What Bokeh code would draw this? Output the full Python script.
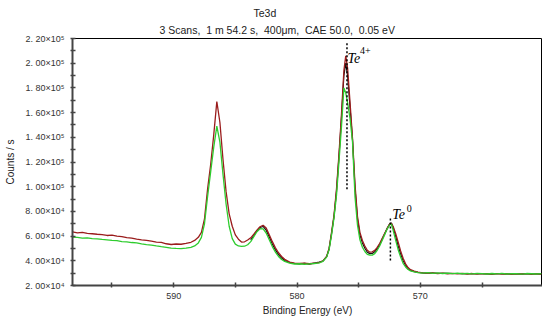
import numpy as np
from bokeh.plotting import figure
from bokeh.models import Range1d, FixedTicker, Title
from bokeh.core.properties import value
from bokeh.embed import file_html
from bokeh.resources import INLINE

# ---------------- data (binding energy in eV, counts in thousands) -------------
energy = [598.2, 597.8, 597.4, 597.0, 596.6, 596.2, 595.8, 595.4, 595.0, 594.6,
          594.2, 593.8, 593.4, 593.0, 592.6, 592.2, 591.8, 591.4, 591.0, 590.6,
          590.2, 589.8, 589.4, 589.0, 588.6,
          588.3, 588.0, 587.75, 587.5, 587.25, 587.0, 586.75, 586.5, 586.25, 586.0,
          585.75, 585.5, 585.25, 585.0, 584.75, 584.5, 584.25, 584.0,
          583.75, 583.5, 583.25, 583.0, 582.75, 582.5, 582.25, 582.0, 581.75, 581.5,
          581.25, 581.0, 580.6, 580.2, 579.8, 579.4, 579.0, 578.6, 578.2,
          577.9, 577.6, 577.4, 577.2, 577.0, 576.8, 576.6, 576.4, 576.2, 576.05,
          575.9, 575.7, 575.5, 575.3, 575.1, 574.9, 574.7, 574.5, 574.3, 574.1,
          573.9, 573.7, 573.5, 573.3, 573.1, 572.9, 572.7, 572.5, 572.35, 572.2,
          572.0, 571.8, 571.6, 571.4, 571.2, 571.0, 570.8, 570.5, 570.2,
          569.8, 569.4, 569.0, 568.6, 568.2, 567.8, 567.4, 567.0, 566.6, 566.2,
          565.8, 565.4, 565.0, 564.6, 564.2, 563.8, 563.4, 563.0, 562.6, 562.2,
          561.8, 561.4, 561.0, 560.6, 560.2]

red_k = [63.4, 62.6, 63.0, 62.2, 61.9, 61.5, 61.2, 60.5, 60.8, 59.9,
         59.6, 58.8, 58.3, 57.6, 57.0, 56.6, 55.9, 55.2, 54.9, 53.8,
         53.2, 53.6, 53.4, 54.1, 55.0,
         56.5, 59.0, 63.0, 74.0, 98.0, 118.0, 142.0, 169.0, 152.0, 122.0,
         96.0, 78.0, 68.0, 61.0, 57.5, 55.2, 55.4, 56.8,
         58.6, 61.5, 64.8, 67.6, 68.8, 66.5, 61.0, 55.5, 50.5, 46.5,
         43.5, 41.2, 39.0, 38.2, 37.8, 38.1, 37.6, 38.0, 38.6,
         40.0, 43.5, 50.0, 63.0, 77.0, 98.0, 126.0, 158.0, 194.0, 206.0,
         196.0, 168.0, 139.0, 102.0, 76.0, 63.0, 56.5, 52.0, 48.5, 47.0,
         47.2, 48.5, 50.8, 54.0, 58.0, 62.0, 66.0, 69.5, 70.3, 67.5,
         62.0, 55.0, 48.0, 42.0, 37.5, 34.5, 32.8, 31.6, 30.8,
         30.2, 29.9, 30.3, 29.6, 30.0, 29.5, 29.9, 29.4, 29.8, 29.3,
         29.7, 29.2, 29.6, 29.5, 29.1, 29.6, 29.2, 29.5, 29.0, 29.4,
         29.3, 29.6, 29.1, 29.5, 29.2]

green_k = [59.2, 59.0, 58.4, 58.6, 58.0, 57.8, 57.3, 57.0, 56.6, 56.3,
           55.6, 55.4, 54.8, 54.5, 53.7, 53.1, 52.7, 52.0, 51.4, 50.9,
           50.2, 50.0, 49.9, 50.3, 50.9,
           52.0, 54.5, 59.0, 70.0, 92.0, 112.0, 132.0, 149.0, 136.0, 110.0,
           86.0, 68.0, 58.0, 53.5, 52.0, 51.6, 51.8, 53.0,
           55.5, 59.5, 63.5, 66.0, 65.8, 62.5, 57.0, 51.5, 47.0, 43.5,
           41.0, 39.5, 38.2, 37.4, 37.6, 37.2, 37.5, 37.8, 38.4,
           39.6, 43.0, 49.0, 61.0, 75.0, 93.0, 120.0, 148.0, 180.0, 176.0,
           168.0, 155.0, 136.0, 92.0, 69.0, 57.0, 51.0, 47.5, 45.2, 44.6,
           44.6, 45.8, 48.5, 52.0, 56.5, 61.0, 65.5, 69.0, 69.8, 64.5,
           56.5, 49.0, 43.0, 38.0, 35.0, 33.0, 31.8, 31.0, 30.4,
           30.0, 30.4, 29.8, 30.2, 29.7, 30.1, 29.6, 30.0, 29.5, 29.9,
           29.4, 29.8, 29.6, 29.3, 29.7, 29.4, 29.8, 29.3, 29.6, 29.5,
           29.2, 29.7, 29.5, 29.3, 29.6]

# third scan (black), read from 583.75 eV downwards
black_start = 43
black_k = [57.0, 60.5, 64.2, 67.0, 67.8, 64.8, 59.2, 53.5, 48.8, 45.0,
           42.2, 40.3, 38.6, 37.8, 37.4, 37.9, 37.3, 38.2, 38.9,
           39.8, 43.3, 49.6, 62.0, 76.0, 96.0, 124.0, 155.0, 190.0, 200.0,
           190.0, 164.0, 138.0, 99.0, 74.0, 61.0, 54.5, 50.2, 47.0, 45.8,
           46.0, 47.3, 49.8, 53.2, 57.4, 61.8, 66.2, 69.8, 70.6, 66.8,
           59.8, 52.0, 45.5, 40.0, 36.2, 33.6, 32.2, 31.2, 30.6,
           30.1, 30.0, 30.0, 29.9, 29.8, 29.8, 29.7, 29.7, 29.6, 29.6,
           29.5, 29.5, 29.6, 29.4, 29.4, 29.5, 29.5, 29.4, 29.3, 29.5,
           29.2, 29.6, 29.3, 29.4, 29.4]

# peak markers: (energy, bottom, top) in counts
te4_marker = (575.95, 98000, 217600)
te0_marker = (572.43, 40300, 75300)

x_major = [590, 580, 570]
x_minor = [595, 585, 575, 565]
y_ticks = [20000, 40000, 60000, 80000, 100000, 120000, 140000, 160000, 180000, 200000, 220000]
y_labels = ["2. 00\u00d710\u2074", "4. 00\u00d710\u2074", "6. 00\u00d710\u2074", "8. 00\u00d710\u2074",
            "1. 00\u00d710\u2075", "1. 20\u00d710\u2075", "1. 40\u00d710\u2075", "1. 60\u00d710\u2075",
            "1. 80\u00d710\u2075", "2. 00\u00d710\u2075", "2. 20\u00d710\u2075"]
y_minor = [30000, 50000, 70000, 90000, 110000, 130000, 150000, 170000, 190000, 210000]

title1 = "Te3d"
title2 = "3 Scans,\u00a0 1 m 54.2 s,\u00a0 400\u03bcm,\u00a0 CAE 50.0,\u00a0 0.05 eV"

# ---------------- figure ----------------
E = np.array(energy)
red = np.array(red_k) * 1000
green = np.array(green_k) * 1000
black = np.array(black_k) * 1000
E_black = E[black_start:]

p = figure(width=542, height=318, title=None,
           x_range=Range1d(598.2, 560.1), y_range=Range1d(20000, 220000),
           output_backend="svg", toolbar_location=None,
           min_border_left=72, min_border_right=0, min_border_top=38, min_border_bottom=33)

p.add_layout(Title(text=title2, align="left", offset=87, text_font_size="10.5px",
                   text_font="Liberation Sans", text_font_style="normal",
                   text_color="#222222", standoff=6), "above")
p.add_layout(Title(text=title1, align="left", offset=181, text_font_size="10.5px",
                   text_font="Liberation Sans", text_font_style="normal",
                   text_color="#222222", standoff=0), "above")

p.background_fill_color = "white"
p.border_fill_color = "white"
p.outline_line_color = "black"
p.outline_line_width = 1
p.xgrid.visible = False
p.ygrid.visible = False

p.line(E_black, black, line_color="#111111", line_width=1.2)
p.line(E, red, line_color="#9a1c1c", line_width=1.3)
p.line(E, green, line_color="#2ecc2e", line_width=1.3)

p.segment(x0=[te4_marker[0], te0_marker[0]], y0=[te4_marker[1], te0_marker[1]],
          x1=[te4_marker[0], te0_marker[0]], y1=[te4_marker[2], te0_marker[2]],
          line_color="black", line_width=1.5, line_dash="2 2")

p.text(x=[575.91], y=[204000], text=["Te"], text_font=value("Liberation Serif"),
       text_font_style="italic", text_font_size="14px", text_baseline="alphabetic",
       text_align="left", text_color="black")
p.text(x=[574.9], y=[210500], text=["4+"], text_font=value("Liberation Serif"),
       text_font_size="10px", text_baseline="alphabetic", text_align="left", text_color="black")
p.text(x=[572.27], y=[77700], text=["Te"], text_font=value("Liberation Serif"),
       text_font_style="italic", text_font_size="14px", text_baseline="alphabetic",
       text_align="left", text_color="black")
p.text(x=[571.1], y=[82500], text=["0"], text_font=value("Liberation Serif"),
       text_font_size="10px", text_baseline="alphabetic", text_align="left", text_color="black")

# axes
xa = p.xaxis[0]
xa.ticker = FixedTicker(ticks=x_major, minor_ticks=x_minor)
xa.axis_label = "Binding Energy (eV)"
ya = p.yaxis[0]
ya.ticker = FixedTicker(ticks=y_ticks, minor_ticks=y_minor)
ya.major_label_overrides = {t: l for t, l in zip(y_ticks, y_labels)}
ya.axis_label = "Counts / s"

for ax in (xa, ya):
    ax.axis_line_color = "#444444"
    ax.axis_line_width = 2
    ax.major_tick_line_color = "#444444"
    ax.minor_tick_line_color = "#444444"
    ax.major_tick_line_width = 1.5
    ax.minor_tick_line_width = 1.5
    ax.major_tick_in = 3
    ax.major_tick_out = 2
    ax.minor_tick_in = 3
    ax.minor_tick_out = 2
    ax.major_label_text_font = "Liberation Sans"
    ax.major_label_text_font_size = "9px"
    ax.major_label_text_color = "#333333"
    ax.axis_label_text_font = "Liberation Sans"
    ax.axis_label_text_font_size = "10px"
    ax.axis_label_text_font_style = "normal"
    ax.axis_label_text_color = "#222222"

ya.major_label_standoff = 6
ya.axis_label_standoff = 6
xa.major_label_standoff = 5
xa.axis_label_standoff = 3

open("out.html", "w").write(file_html(p, INLINE))
